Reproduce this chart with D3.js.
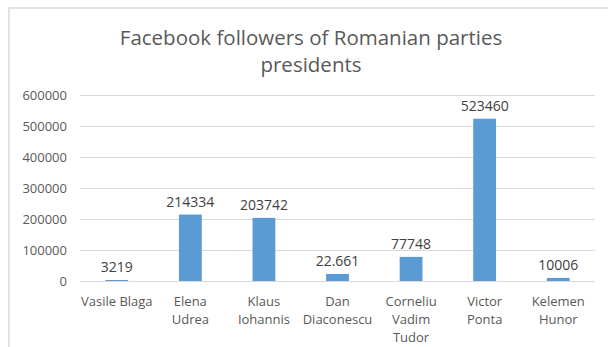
<!DOCTYPE html>
<html>
<head>
<meta charset="utf-8">
<script src="https://cdn.jsdelivr.net/npm/d3@7"></script>
<style>
  body { margin: 0; background: #fff; }
  svg { display: block; font-family: "Open Sans", "Noto Sans", sans-serif; }
</style>
</head>
<body>
<script>
// chart data
const names = ["Vasile Blaga", "Elena Udrea", "Klaus Iohannis", "Dan Diaconescu",
               "Corneliu Vadim Tudor", "Victor Ponta", "Kelemen Hunor"];
const nameLines = [["Vasile Blaga"], ["Elena", "Udrea"], ["Klaus", "Iohannis"], ["Dan", "Diaconescu"],
                   ["Corneliu", "Vadim", "Tudor"], ["Victor", "Ponta"], ["Kelemen", "Hunor"]];
const followers = [3219, 214334, 203742, 22661, 77748, 523460, 10006];
const valueLabels = ["3219", "214334", "203742", "22.661", "77748", "523460", "10006"];
const yTicks = [0, 100000, 200000, 300000, 400000, 500000, 600000];

const width = 608, height = 347;
const margin = { top: 95, right: 13, bottom: 66, left: 80 };
const textColor = "#595959";

const svg = d3.select("body").append("svg")
    .attr("width", width)
    .attr("height", height);

// chart frame (only top and left edges visible)
svg.append("path")
    .attr("d", `M9,${height} V8 H${width}`)
    .attr("fill", "none")
    .attr("stroke", "#e3e3e3")
    .attr("stroke-width", 2);

svg.append("text")
    .attr("x", 311)
    .attr("y", 45)
    .attr("text-anchor", "middle")
    .attr("fill", textColor)
    .style("font-size", "20.5px")
    .text("Facebook followers of Romanian parties");
svg.append("text")
    .attr("x", 311)
    .attr("y", 72)
    .attr("text-anchor", "middle")
    .attr("fill", textColor)
    .style("font-size", "20.5px")
    .text("presidents");

const x = d3.scaleBand()
    .domain(names)
    .range([margin.left, width - margin.right])
    .paddingInner(0.69)
    .paddingOuter(0.345);

const y = d3.scaleLinear()
    .domain([0, 600000])
    .range([height - margin.bottom, margin.top]);

// gridlines + y labels
const yAxis = svg.append("g")
    .attr("transform", `translate(${margin.left},0)`)
    .call(d3.axisLeft(y).tickValues(yTicks).tickSize(-(width - margin.left - margin.right)).tickPadding(13).tickFormat(d3.format("d")));
yAxis.select(".domain").remove();
yAxis.selectAll(".tick line").attr("stroke", "#d9d9d9");
yAxis.selectAll(".tick text").attr("fill", textColor).style("font-size", "13px")
    .style("font-family", "'Open Sans', sans-serif");

svg.selectAll("rect.bar")
    .data(followers)
    .enter()
    .append("rect")
    .attr("class", "bar")
    .attr("x", (d, i) => x(names[i]))
    .attr("y", d => y(d))
    .attr("width", x.bandwidth())
    .attr("height", d => y(0) - y(d))
    .attr("fill", "#5b9bd5");

svg.selectAll("text.val")
    .data(followers)
    .enter()
    .append("text")
    .attr("class", "val")
    .attr("x", (d, i) => x(names[i]) + x.bandwidth() / 2)
    .attr("y", d => y(d) - 8)
    .attr("text-anchor", "middle")
    .attr("fill", "#404040")
    .style("font-size", "14px")
    .text((d, i) => valueLabels[i]);

// category labels, wrapped like the original
const cat = svg.selectAll("text.cat")
    .data(nameLines)
    .enter()
    .append("text")
    .attr("class", "cat")
    .attr("text-anchor", "middle")
    .attr("fill", textColor)
    .style("font-size", "13px");
cat.each(function(lines, i) {
    const cx = x(names[i]) + x.bandwidth() / 2;
    d3.select(this).selectAll("tspan")
        .data(lines)
        .enter()
        .append("tspan")
        .attr("x", cx)
        .attr("y", (l, j) => 306 + j * 18)
        .text(l => l);
});
</script>
</body>
</html>
